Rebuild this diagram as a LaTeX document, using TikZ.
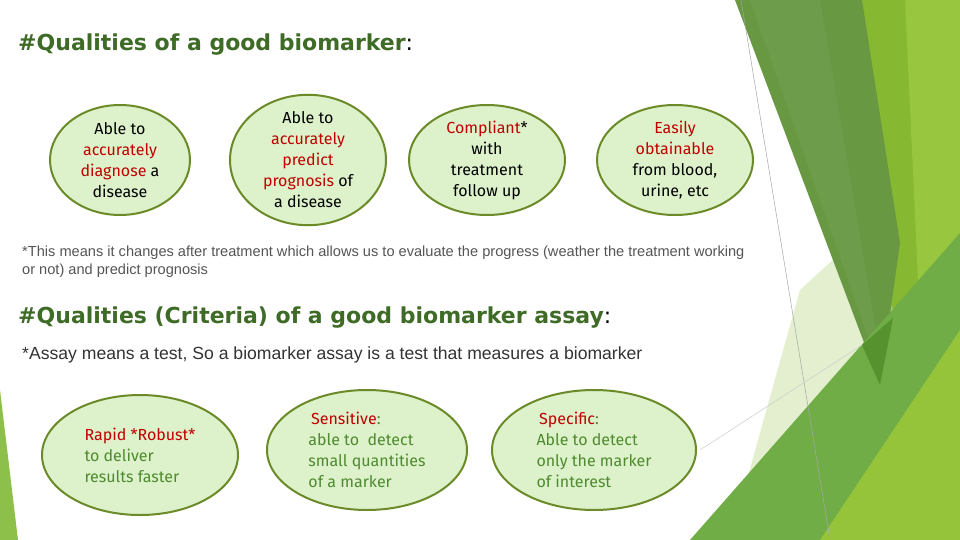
\documentclass[tikz,border=0pt]{standalone}
\usepackage{fontspec}
\setmainfont{DejaVu Sans}
\newfontfamily\notef{Liberation Sans}
\newfontfamily\nodef{Fira Sans}
\usetikzlibrary{shapes.geometric}
\definecolor{fillg}{HTML}{DDF2CB}
\definecolor{edgeg}{HTML}{6B8A28}
\definecolor{titleg}{HTML}{3E6B25}
\definecolor{redt}{HTML}{C00000}
\definecolor{greent}{HTML}{4E8A2E}
\definecolor{notet}{HTML}{555555}
\tikzset{
 bub/.style={ellipse,draw=edgeg,line width=2pt,fill=fillg,inner sep=-2pt,align=center,font=\nodef\fontsize{16}{21}\selectfont},
 bubl/.style={bub,align=left},
 ttl/.style={anchor=west,font=\fontsize{22}{26}\selectfont\bfseries,text=titleg,inner sep=0},
 note/.style={anchor=west,font=\notef\fontsize{14.6}{18}\selectfont,text=notet,inner sep=0,align=left}
}
\begin{document}
\begin{tikzpicture}[x=1pt,y=-1pt]
\useasboundingbox (0,0) rectangle (960,540);
\fill[white] (0,0) rectangle (960,540);
% decoration
\fill[color={rgb,255:red,134;green,184;blue,50}] (860,0) -- (960,0) -- (960,540) -- (880,540) -- cycle;
\fill[color={rgb,255:red,152;green,198;blue,62}] (905,0) -- (960,0) -- (960,540) -- (930,540) -- cycle;
\fill[color={rgb,255:red,200;green,225;blue,160},opacity=.5] (730,540) -- (800,290) -- (860,235) -- (920,370) -- (820,540) -- cycle;
\fill[color={rgb,255:red,104;green,152;blue,66}] (735,0) -- (862,0) -- (900,243) -- (880,385) -- cycle;
\fill[color={rgb,255:red,112;green,160;blue,80},opacity=.7] (750,0) -- (820,0) -- (885,385) -- cycle;
\fill[color={rgb,255:red,112;green,173;blue,70}] (690,540) -- (960,233) -- (960,540) -- cycle;
\fill[color={rgb,255:red,149;green,196;blue,58}] (820,540) -- (960,330) -- (960,540) -- cycle;
\fill[color={rgb,255:red,80;green,140;blue,40},opacity=.8] (862,345) -- (893,318) -- (880,385) -- cycle;
\draw[gray!70,line width=.5pt] (741,0) -- (830,540);
\draw[gray!40,line width=.5pt] (700,450) -- (862,345);
\fill[color={rgb,255:red,140;green,192;blue,74}] (0,390) -- (18,540) -- (0,540) -- cycle;
% titles
\node[ttl] (t1) at (18,45) {\#Qualities of a good biomarker\textcolor{black}{\mdseries:}};
\node[bub,minimum width=140,minimum height=110] (a1) at (120,160) {Able to\\\textcolor{redt}{accurately}\\\textcolor{redt}{diagnose} a\\disease};
\node[bub,minimum width=156,minimum height=110] (a2) at (308,160) {Able to\\\textcolor{redt}{accurately}\\\textcolor{redt}{predict}\\\textcolor{redt}{prognosis} of\\a disease};
\node[bub,minimum width=156,minimum height=110] (a3) at (487,160) {\textcolor{redt}{Compliant}*\\with\\treatment\\follow up};
\node[bub,minimum width=156,minimum height=110] (a4) at (675,160) {\textcolor{redt}{Easily}\\\textcolor{redt}{obtainable}\\from blood,\\urine, etc};
\node[note] (n1) at (22,262) {*This means it changes after treatment which allows us to evaluate the progress (weather the treatment working\\or not) and predict prognosis};
\node[ttl] (t2) at (18,318) {\#Qualities (Criteria) of a good biomarker assay\textcolor{black}{\mdseries:}};
\node[note,text=black!80,font=\notef\fontsize{17.6}{20}\selectfont] (n2) at (22,355) {*Assay means a test, So a biomarker assay is a test that measures a biomarker};
\node[bubl,minimum width=196,minimum height=120,text=greent] (b1) at (140,455) {\textcolor{redt}{Rapid *Robust*}\\to deliver\\results faster};
\node[bubl,minimum width=200,minimum height=120,text=greent] (b2) at (367,450) {\,\textcolor{redt}{Sensitive}:\\able to\ \ detect\\small quantities\\of a marker};
\node[bubl,minimum width=204,minimum height=120,text=greent] (b3) at (594,450) {\,\textcolor{redt}{Specific}:\\Able to detect\\only the marker\\of interest};
\end{tikzpicture}
\end{document}
